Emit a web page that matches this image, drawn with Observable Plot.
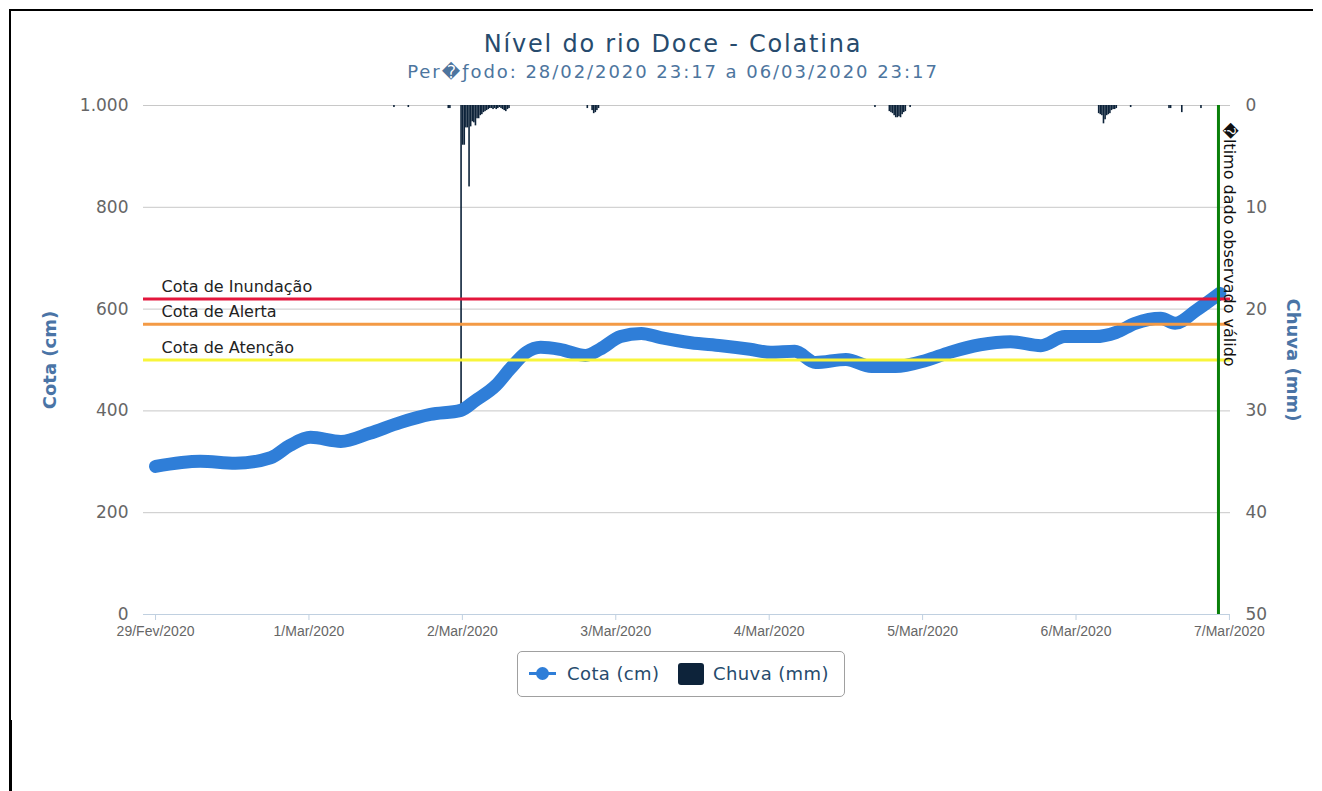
<!DOCTYPE html>
<html>
<head>
<meta charset="utf-8">
<script src="https://cdn.jsdelivr.net/npm/d3@7"></script>
<script src="https://cdn.jsdelivr.net/npm/@observablehq/plot@0.6"></script>
<style>
  body { margin: 0; background: #fff; font-family: "DejaVu Sans", sans-serif; }
  #wrap { position: relative; width: 1322px; height: 791px; overflow: hidden; }
  .fr { position: absolute; background: #000; }
  #header { position: relative; height: 84px; }
  #title { position: absolute; left: 24px; right: 0; top: 29px; text-align: center; font-size: 24px; line-height: 30px; letter-spacing: 1.8px; color: #274b6d; }
  #subtitle { position: absolute; left: 24px; right: 0; top: 61px; text-align: center; font-size: 18px; line-height: 22px; letter-spacing: 1.95px; color: #4d759e; }
  #chart svg { display: block; overflow: visible; }
  #legend { position: absolute; left: 517px; top: 651px; width: 326px; height: 44px; border: 1px solid #a0a0a0; border-radius: 5px; background: #fff; }
  #legend .t { position: absolute; top: 9px; font-size: 18px; line-height: 26px; letter-spacing: 0.4px; color: #274b6d; }
</style>
</head>
<body>
<div id="wrap">
  <div class="fr" style="left:9px;top:9px;width:1304px;height:2px"></div>
  <div class="fr" style="left:9px;top:9px;width:2px;height:782px"></div>
  <div class="fr" style="left:9px;top:720px;width:3px;height:71px"></div>
  <div id="header">
    <div id="title">Nível do rio Doce - Colatina</div>
    <div id="subtitle">Per&#xFFFD;&#x192;odo: 28/02/2020 23:17 a 06/03/2020 23:17</div>
  </div>
  <div id="chart"></div>
  <div id="legend">
    <div style="position:absolute;left:11px;top:20px;width:27px;height:3px;background:#2f7ed8"></div>
    <div style="position:absolute;left:18px;top:15px;width:13px;height:13px;border-radius:50%;background:#2f7ed8"></div>
    <div class="t" style="left:49px">Cota (cm)</div>
    <div style="position:absolute;left:160px;top:11px;width:26px;height:22px;border-radius:3px;background:#0d233a"></div>
    <div class="t" style="left:195px">Chuva (mm)</div>
  </div>
</div>
<script>
// ---- Data ----
const cotaTime = [
  "2020-02-29T00:00","2020-02-29T07:00","2020-02-29T12:30","2020-02-29T18:00","2020-02-29T21:00",
  "2020-03-01T00:15","2020-03-01T05:00","2020-03-01T09:30","2020-03-01T14:15","2020-03-01T19:00","2020-03-01T23:45",
  "2020-03-02T02:00","2020-03-02T05:15","2020-03-02T07:30","2020-03-02T10:00","2020-03-02T12:15","2020-03-02T15:15","2020-03-02T19:15","2020-03-02T21:30",
  "2020-03-03T00:45","2020-03-03T04:00","2020-03-03T07:00","2020-03-03T11:45","2020-03-03T16:30","2020-03-03T21:00",
  "2020-03-04T00:15","2020-03-04T04:00","2020-03-04T07:15","2020-03-04T12:00","2020-03-04T16:00","2020-03-04T19:45",
  "2020-03-05T00:30","2020-03-05T04:15","2020-03-05T09:00","2020-03-05T13:45","2020-03-05T18:30","2020-03-05T22:15",
  "2020-03-06T03:00","2020-03-06T06:15","2020-03-06T09:15","2020-03-06T13:15","2020-03-06T15:30","2020-03-06T18:45","2020-03-06T22:30"
];
const cotaValue = [
  291,301,297,308,332,
  348,340,356,377,393,401,
  420,450,483,515,525,521,509,521,
  546,552,544,534,528,521,
  515,517,495,501,487,487,
  499,515,530,536,528,546,
  546,554,572,582,572,597,631
];
const rainTime = [
  "2020-03-01T13:15","2020-03-01T15:30","2020-03-01T21:45","2020-03-01T22:00",
  "2020-03-01T23:45","2020-03-02T00:00","2020-03-02T00:15","2020-03-02T00:30","2020-03-02T00:45","2020-03-02T01:00",
  "2020-03-02T01:15","2020-03-02T01:30","2020-03-02T01:45","2020-03-02T02:00","2020-03-02T02:15","2020-03-02T02:30",
  "2020-03-02T02:45","2020-03-02T03:00","2020-03-02T03:15","2020-03-02T03:30","2020-03-02T03:45","2020-03-02T04:00",
  "2020-03-02T04:15","2020-03-02T04:30","2020-03-02T04:45","2020-03-02T05:00","2020-03-02T05:15","2020-03-02T05:30",
  "2020-03-02T05:45","2020-03-02T06:00","2020-03-02T06:15","2020-03-02T06:30","2020-03-02T06:45","2020-03-02T07:00","2020-03-02T07:15",
  "2020-03-02T19:30","2020-03-02T20:15","2020-03-02T20:30","2020-03-02T20:45","2020-03-02T21:00","2020-03-02T21:15",
  "2020-03-04T16:30","2020-03-04T18:45","2020-03-04T19:00","2020-03-04T19:15","2020-03-04T19:30","2020-03-04T19:45",
  "2020-03-04T20:00","2020-03-04T20:15","2020-03-04T20:30","2020-03-04T20:45","2020-03-04T21:00","2020-03-04T21:15","2020-03-04T22:00",
  "2020-03-06T03:30","2020-03-06T03:45","2020-03-06T04:00","2020-03-06T04:15","2020-03-06T04:30","2020-03-06T04:45",
  "2020-03-06T05:00","2020-03-06T05:15","2020-03-06T05:30","2020-03-06T05:45","2020-03-06T06:00","2020-03-06T06:15",
  "2020-03-06T08:30","2020-03-06T14:30","2020-03-06T14:45","2020-03-06T16:30","2020-03-06T19:30"
];
const rainMm = [
  0.2,0.2,0.3,0.3,
  29.5,3.9,3.9,2.2,2.2,8.0,
  2.1,1.6,1.7,2.0,1.3,1.3,
  1.0,0.9,0.7,0.6,0.5,0.4,
  0.3,0.3,0.4,0.3,0.4,0.3,
  0.2,0.3,0.4,0.5,0.6,0.4,0.3,
  0.3,0.5,0.8,0.7,0.5,0.3,
  0.2,0.6,0.7,0.8,1.0,1.2,
  1.2,1.1,1.2,0.9,0.7,0.6,0.2,
  0.8,0.9,1.0,1.8,1.4,1.0,
  0.9,0.8,0.5,0.4,0.4,0.3,
  0.2,0.3,0.3,0.7,0.3
];
const thresholdLabels = ["Cota de Inundação", "Cota de Alerta", "Cota de Atenção"];
const thresholdValues = [620, 570, 500];
const lastObsTime = "2020-03-06T22:17";
const lastObsLabel = "\uFFFDltimo dado observado válido";
const cotaTicks = [0, 200, 400, 600, 800, 1000];
const chuvaTicks = [0, 10, 20, 30, 40, 50];
const dayTicks = ["2020-02-29","2020-03-01","2020-03-02","2020-03-03","2020-03-04","2020-03-05","2020-03-06","2020-03-07"];
const dayLabels = ["29/Fev/2020","1/Mar/2020","2/Mar/2020","3/Mar/2020","4/Mar/2020","5/Mar/2020","6/Mar/2020","7/Mar/2020"];
const xDomain = ["2020-02-28T22:07", "2020-03-07T00:10"];
const cotaTitle = "Cota (cm)";
const chuvaTitle = "Chuva (mm)";

// ---- Build ----
const T = s => new Date(s.length === 10 ? s + "T00:00Z" : s + "Z");
const cota = cotaTime.map((t, i) => ({time: T(t), value: cotaValue[i]}));
const rain = rainTime.map((t, i) => ({time: T(t), mm: rainMm[i]}));
const thresholds = thresholdLabels.map((l, i) => ({label: l, value: thresholdValues[i]}));
const thresholdColor = {"Cota de Inundação": "#e3163c", "Cota de Alerta": "#f39a45", "Cota de Atenção": "#f8f53a"};
// rain axis (right, reversed): 0 mm at top (cota 1000), 50 mm at bottom (cota 0)
const rainToY = mm => 1000 - mm * 20;
const yToRain = v => (1000 - v) / 20;
const dayLabelMap = new Map(dayTicks.map((d, i) => [+T(d), dayLabels[i]]));
const fmtThousands = v => d3.format(",")(v).replace(/,/g, ".");
const lastObs = T(lastObsTime);

const plot = Plot.plot({
  width: 1322,
  height: 560,
  marginTop: 21,
  marginBottom: 30,
  marginLeft: 143,
  marginRight: 92,
  style: {fontFamily: "DejaVu Sans", background: "transparent", overflow: "visible"},
  x: {type: "utc", domain: xDomain.map(T), axis: null},
  y: {domain: [0, 1000], axis: null},
  marks: [
    Plot.ruleY(cotaTicks.filter(v => v > 0), {stroke: "#c8c8c8", strokeWidth: 1}),
    Plot.ruleY([0], {stroke: "#c0d0e0", strokeWidth: 1}),
    Plot.rect(rain, {
      x1: "time",
      x2: d => new Date(+d.time + 15 * 60 * 1000),
      y1: d => rainToY(0),
      y2: d => rainToY(d.mm),
      fill: "#0d233a",
      inset: 0
    }),
    Plot.line(cota, {x: "time", y: "value", stroke: "#2f7ed8", strokeWidth: 13, curve: "monotone-x", strokeLinecap: "round", strokeLinejoin: "round"}),
    Plot.ruleY(thresholds, {y: "value", stroke: d => thresholdColor[d.label], strokeWidth: 3}),
    Plot.text(thresholds, {y: "value", text: "label", frameAnchor: "left", dx: 18, dy: -12, textAnchor: "start", fontSize: 16, fill: "#222"}),
    Plot.ruleX([lastObs], {x: d => d, stroke: "#0a800a", strokeWidth: 3}),
    Plot.text([lastObs], {x: d => d, text: () => lastObsLabel, frameAnchor: "top", rotate: 90, textAnchor: "start", dx: 17, dy: 17, fontSize: 16, fill: "#111"}),
    Plot.axisX(dayTicks.map(T), {
      tickSize: 6, tickPadding: 6, stroke: "#c0d0e0", fill: "#666",
      fontFamily: "Liberation Sans", fontSize: 14,
      tickFormat: d => dayLabelMap.get(+d), label: null
    }),
    Plot.axisY(cotaTicks, {anchor: "left", tickSize: 0, tickPadding: 15, tickFormat: fmtThousands, fontSize: 17, fill: "#666", label: null}),
    Plot.axisY(chuvaTicks.map(rainToY), {anchor: "right", tickSize: 0, tickPadding: 15, tickFormat: v => String(Math.round(yToRain(v))), fontSize: 17, fill: "#666", label: null}),
    Plot.text([cotaTitle], {text: d => d, frameAnchor: "left", dx: -93, rotate: -90, textAnchor: "middle", fontSize: 18, fontWeight: "bold", fill: "#4a74a6"}),
    Plot.text([chuvaTitle], {text: d => d, frameAnchor: "right", dx: 62, rotate: 90, textAnchor: "middle", fontSize: 18, fontWeight: "bold", fill: "#4a74a6"})
  ]
});
document.getElementById("chart").appendChild(plot);
</script>
</body>
</html>
